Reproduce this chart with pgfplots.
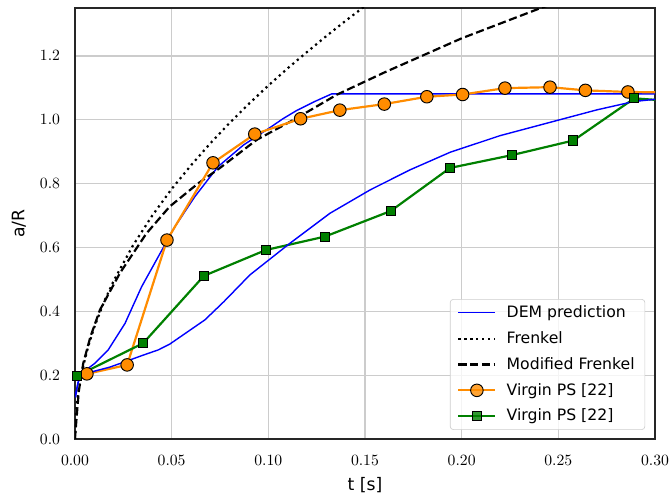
\documentclass[border=0pt]{standalone}
\usepackage{pgfplots}
\pgfplotsset{compat=1.18}
\usepackage{fontspec}
\setmainfont{DejaVu Sans}
\definecolor{axgray}{HTML}{262626}
\definecolor{gridgray}{HTML}{CCCCCC}
\definecolor{mplorange}{HTML}{FF8C00}
\definecolor{mplgreen}{HTML}{008000}
\begin{document}
\begin{tikzpicture}
\begin{axis}[
  scale only axis,
  width=370pt, height=274.9pt,
  xmin=0, xmax=0.30, ymin=0, ymax=1.35,
  xtick={0,0.05,0.10,0.15,0.20,0.25,0.30},
  ytick={0,0.2,0.4,0.6,0.8,1.0,1.2},
  xticklabel style={yshift=-7pt, /pgf/number format/fixed, /pgf/number format/fixed zerofill, /pgf/number format/precision=2},
  yticklabel style={xshift=-6pt, /pgf/number format/fixed, /pgf/number format/fixed zerofill, /pgf/number format/precision=1},
  major tick length=0pt,
  tick style={draw=none},
  grid=major,
  grid style={gridgray, line width=0.8pt},
  axis line style={axgray, line width=1.1pt},
  xlabel={\fontsize{11}{13}\selectfont t [s]},
  ylabel={\fontsize{11}{13}\selectfont a/R},
  xlabel style={yshift=-0.7pt},
  ylabel style={yshift=2pt},
  legend style={at={(0.983,0.021)}, anchor=south east,
    draw=gridgray, rounded corners=2pt, fill=white, fill opacity=0.8, text opacity=1,
    font=\fontsize{10}{12}\selectfont, inner xsep=4.5pt, inner ysep=2pt, row sep=3.4pt, column sep=4.5pt},
  legend cell align=left,
  legend image code/.code={\draw[mark repeat=2,mark phase=2] plot coordinates {(0pt,0pt) (11.8pt,0pt) (23.6pt,0pt)};},
]
% DEM prediction (upper)
\addplot[blue, line width=0.9pt, mark=none] coordinates {
(0.0003,0.13)(0.0015,0.175)(0.0035,0.206)(0.0103,0.237)(0.0172,0.279)(0.0259,0.362)(0.0345,0.477)(0.0431,0.571)(0.0517,0.665)(0.062,0.759)(0.074,0.853)(0.087,0.920)(0.094,0.948)(0.1015,0.978)(0.1078,1.004)(0.1147,1.029)(0.124,1.057)(0.1328,1.081)(0.30,1.081)};
\addlegendentry{DEM prediction}
% Frenkel
\addplot[black, line width=1.4pt, dash pattern=on 1.4pt off 2.4pt, mark=none] coordinates {
(0,0)(0.0005,0.078)(0.001,0.111)(0.002,0.157)(0.004,0.221)(0.007,0.293)(0.01,0.350)(0.015,0.429)(0.02,0.495)(0.03,0.606)(0.04,0.700)(0.05,0.783)(0.06,0.857)(0.07,0.926)(0.08,0.990)(0.09,1.050)(0.10,1.107)(0.11,1.161)(0.12,1.212)(0.13,1.262)(0.14,1.310)(0.15,1.356)(0.16,1.400)};
\addlegendentry{Frenkel}
% Modified Frenkel
\addplot[black, line width=1.4pt, dash pattern=on 5.2pt off 2.3pt, mark=none] coordinates {
(0,0)(0.0009,0.07)(0.002,0.15)(0.0043,0.237)(0.008,0.32)(0.0129,0.404)(0.0233,0.52)(0.037,0.644)(0.049,0.728)(0.0636,0.80)(0.075,0.849)(0.094,0.937)(0.1147,1.005)(0.1353,1.078)(0.16,1.148)(0.2,1.255)(0.2405,1.349)(0.26,1.39)};
\addlegendentry{Modified Frenkel}
% Virgin PS orange
\addplot[mplorange, line width=1.4pt, mark=*, mark size=4pt, mark options={fill=mplorange, draw=black, line width=0.6pt}] coordinates {
(0.0062,0.204)(0.027,0.232)(0.0476,0.623)(0.0714,0.865)(0.093,0.955)(0.1167,1.003)(0.137,1.030)(0.160,1.049)(0.182,1.072)(0.2005,1.079)(0.2224,1.099)(0.2457,1.102)(0.264,1.092)(0.286,1.087)(0.31,1.085)};
\addlegendentry{Virgin PS [22]}
% Virgin PS green
\addplot[mplgreen, line width=1.4pt, mark=square*, mark size=2.9pt, mark options={fill=mplgreen, draw=black, line width=0.6pt}] coordinates {
(0.0012,0.198)(0.0353,0.300)(0.0667,0.511)(0.0988,0.592)(0.1293,0.634)(0.1633,0.714)(0.194,0.849)(0.2259,0.889)(0.2578,0.935)(0.2893,1.067)(0.31,1.058)};
\addlegendentry{Virgin PS [22]}
% DEM prediction (lower)
\addplot[blue, line width=0.9pt, mark=none, forget plot] coordinates {
(0.0003,0.14)(0.002,0.185)(0.006,0.206)(0.018,0.225)(0.0259,0.242)(0.035,0.262)(0.0431,0.279)(0.049,0.297)(0.0672,0.373)(0.077,0.430)(0.0905,0.514)(0.1112,0.613)(0.1319,0.707)(0.1526,0.780)(0.1733,0.843)(0.194,0.898)(0.2198,0.950)(0.2353,0.975)(0.27,1.031)(0.289,1.057)(0.30,1.064)};
\end{axis}
\pgfresetboundingbox
\path ([shift={(-47.8pt,-38.9pt)}]current axis.south west) rectangle ([shift={(10.2pt,5.1pt)}]current axis.north east);
\end{tikzpicture}
\end{document}
